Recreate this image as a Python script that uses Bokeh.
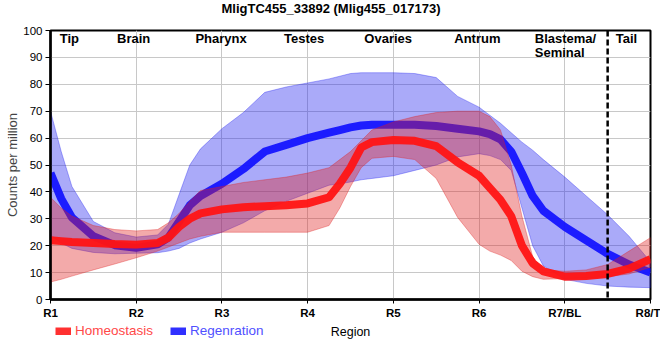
from bokeh.plotting import figure
from bokeh.models import Label, Span, FixedTicker, Legend, LegendItem, Range1d
from bokeh.layouts import column
from bokeh.embed import file_html
from bokeh.resources import INLINE

# ---------------- data ----------------
tick_positions = [1, 2, 3, 4, 5, 6, 7, 8]
tick_labels = ["R1", "R2", "R3", "R4", "R5", "R6", "R7/BL", "R8/T"]

region_names = ["Tip", "Brain", "Pharynx", "Testes", "Ovaries", "Antrum", "Blastema/", "Seminal", "Tail"]

pos = [1, 1.125, 1.25, 1.5, 1.75, 2, 2.25, 2.375, 2.5, 2.625, 2.75, 3, 3.25, 3.5, 3.75,
       4, 4.25, 4.375, 4.5, 4.625, 4.75, 5, 5.25, 5.5, 5.75, 6, 6.125, 6.25, 6.375, 6.5,
       6.625, 6.75, 7, 7.25, 7.5, 7.75, 8]

homeo_mean = [22, 21.7, 21.4, 21, 20.6, 20.4, 21, 23, 27, 30,
              32, 33.5, 34.3, 34.7, 35, 35.7, 38, 43, 49, 56.5,
              58.5, 59.3, 59, 57, 51, 46, 41.5, 37, 31, 20,
              13.5, 10.5, 8.5, 8.7, 9.5, 11.5, 15]
homeo_upper = [38, 34, 31, 27.5, 26, 25.5, 26, 28.5, 32, 36.5,
               40.5, 42, 43.5, 44.5, 45.5, 47, 49, 52, 55, 59,
               63, 66, 68, 69.5, 70, 70, 68, 63, 50, 31,
               16, 11, 10.5, 11, 13, 18, 23]
homeo_lower = [6.5, 7.5, 8.7, 11, 13.2, 15.5, 18, 19.5, 21, 22.5,
               23.5, 25, 25, 25, 25, 25, 27.5, 34, 42, 49,
               52.5, 53.2, 52, 45, 30.5, 20.5, 18, 16.5, 14.5, 10.5,
               8.5, 7.5, 7.8, 8, 8.5, 9.5, 12]

regen_mean = [47, 37.5, 30.5, 23.5, 20.2, 19.2, 20.5, 23, 29, 35,
              38.5, 43, 48.5, 55, 57.5, 60, 62, 63, 64, 64.7,
              65, 65, 65, 64.5, 63.5, 62.5, 61.5, 59.5, 55, 47,
              38.5, 33, 27, 22, 17, 13, 10]
regen_upper = [70, 55, 42, 29, 24.8, 23.2, 24, 28, 39, 50,
               56, 63.5, 69.5, 77, 79, 80.5, 82, 83, 84, 84.3,
               84.3, 84.3, 84, 82.5, 75.5, 71.5, 68.5, 65.5, 62, 58.5,
               55.5, 52, 45.5, 38.5, 31.5, 23.5, 14]
regen_lower = [24, 21, 19, 17.5, 17, 17.2, 17.4, 18, 19, 21,
               22.5, 25, 28.5, 33, 36.5, 39.5, 42.5, 43, 43.7, 44.5,
               45, 46, 48, 50, 53, 54.2, 53.5, 52, 48, 34,
               20, 12.5, 7.5, 6, 5, 4.6, 4.4]

title_text = "MligTC455_33892 (Mlig455_017173)"

# ---------------- layout / style ----------------
FONT = "Liberation Sans"
RED = "#E02020"
BLUE = "#2020F0"
RED_LINE = "#FF1414"
BLUE_LINE = "#1414FF"

region_x = [1.22, 1.97, 2.99, 3.96, 4.94, 5.98, 6.65, 6.65, 7.72]
region_y = [96.9, 96.9, 96.9, 96.9, 96.9, 96.9, 96.9, 91.9, 96.9]
region_align = ["center"] * 6 + ["left", "left", "center"]

def strip(h):
    s = figure(width=660, height=h, x_range=Range1d(50, 650), y_range=Range1d(0, h),
               output_backend="svg", toolbar_location=None,
               x_axis_location=None, y_axis_location=None,
               min_border_left=50, min_border_right=10, min_border_top=0, min_border_bottom=0)
    s.grid.visible = False
    s.outline_line_color = None
    return s

# ---------------- title strip ----------------
t = strip(20)
t.add_layout(Label(x=330.5, y=12.3, text=title_text, text_align="center", text_baseline="middle",
                   text_font=FONT, text_font_style="bold", text_font_size="13px", text_color="black"))

# ---------------- main plot ----------------
p = figure(width=660, height=301, x_range=Range1d(1, 8), y_range=Range1d(0, 100),
           output_backend="svg", toolbar_location=None,
           min_border_left=50, min_border_right=10, min_border_top=10, min_border_bottom=21)

# bands and lines (blue first, then red on top)
p.patch(pos + pos[::-1], regen_upper + regen_lower[::-1], fill_color=BLUE, fill_alpha=0.38,
        line_color=BLUE, line_alpha=0.35, line_width=1)
r_blue = p.line(pos, regen_mean, line_color=BLUE_LINE, line_width=8, line_alpha=0.95, line_join="round")
p.patch(pos + pos[::-1], homeo_upper + homeo_lower[::-1], fill_color=RED, fill_alpha=0.38,
        line_color=RED, line_alpha=0.35, line_width=1)
r_red = p.line(pos, homeo_mean, line_color=RED_LINE, line_width=8, line_alpha=0.95, line_join="round")

# dashed separator
p.add_layout(Span(location=7.5, dimension="height", line_color="black", line_width=2.5,
                  line_dash="6 3"))

# axes
p.xaxis.ticker = FixedTicker(ticks=tick_positions)
p.xaxis.major_label_overrides = {t_: l for t_, l in zip(tick_positions, tick_labels)}
p.yaxis.ticker = FixedTicker(ticks=list(range(0, 101, 10)))
for ax in (p.xaxis[0], p.yaxis[0]):
    ax.axis_line_color = "black"
    ax.axis_line_width = 2.5
    ax.major_tick_line_color = "black"
    ax.major_tick_line_width = 1
    ax.major_tick_in = 0
    ax.minor_tick_line_color = None
    ax.major_label_text_font = FONT
    ax.major_label_text_color = "black"
p.xaxis.major_tick_out = 4
p.yaxis.major_tick_out = 5
p.xaxis.major_label_text_font_style = "bold"
p.xaxis.major_label_text_font_size = "11.5px"
p.xaxis.major_label_standoff = 3
p.yaxis.major_label_text_font_size = "11.5px"
p.yaxis.major_label_standoff = 3
p.yaxis.axis_label = "Counts per million"
p.yaxis.axis_label_text_font = FONT
p.yaxis.axis_label_text_font_size = "13px"
p.yaxis.axis_label_text_font_style = "normal"
p.yaxis.axis_label_standoff = 0

p.xgrid.grid_line_color = "#C8C8C8"
p.ygrid.grid_line_color = "#C8C8C8"
p.outline_line_color = "black"
p.outline_line_width = 2
p.outline_line_alpha = 1

# region names
for name, x, y, al in zip(region_names, region_x, region_y, region_align):
    p.add_layout(Label(x=x, y=y, text=name, text_align=al, text_baseline="middle",
                       text_font=FONT, text_font_style="bold", text_font_size="13px",
                       text_color="black"))

# ---------------- legend strip ----------------
q = strip(39)
nan = float("nan")
d_red = q.line(x=[nan, nan], y=[nan, nan], line_color="#FF3030", line_width=8)
d_blue = q.line(x=[nan, nan], y=[nan, nan], line_color="#3030FF", line_width=8)

def make_legend(label, rend, color, loc):
    return Legend(items=[LegendItem(label=label, renderers=[rend])], location=loc,
                  orientation="horizontal", glyph_width=16, glyph_height=8, label_standoff=4,
                  padding=0, margin=0, spacing=0, border_line_alpha=0, background_fill_alpha=0,
                  label_text_font=FONT, label_text_font_size="13.5px", label_text_color=color,
                  label_height=14)

q.add_layout(make_legend("Homeostasis", d_red, "#FF4848", (5, 22)))
q.add_layout(make_legend("Regenration", d_blue, "#5050FF", (120, 22)))
q.add_layout(Label(x=350, y=28.5, text="Region", text_align="center", text_baseline="middle",
                   text_font=FONT, text_font_size="12.5px", text_color="black"))

open("out.html", "w").write(file_html(column(t, p, q), INLINE))
